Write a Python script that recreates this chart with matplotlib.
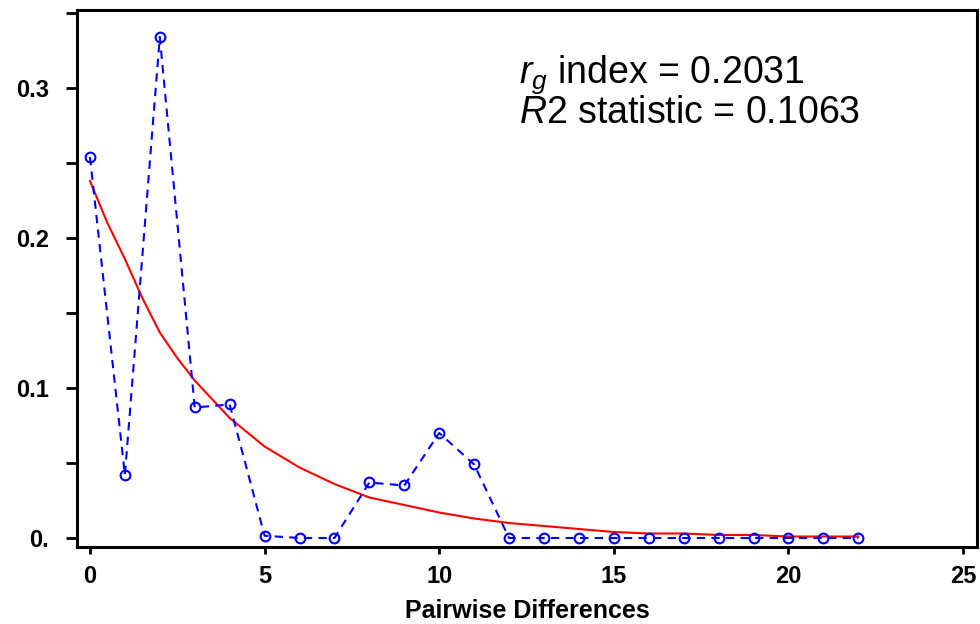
import numpy as np
import matplotlib
matplotlib.use("Agg")
import matplotlib.pyplot as plt
from matplotlib.ticker import MultipleLocator

plt.rcParams['font.family'] = ['Liberation Sans', 'DejaVu Sans']
plt.rcParams['mathtext.fontset'] = 'custom'
plt.rcParams['mathtext.rm'] = 'Liberation Sans'
plt.rcParams['mathtext.it'] = 'Liberation Sans:italic'

# Observed mismatch distribution (pairwise differences)
diffs = list(range(23))
observed = [0.254, 0.042, 0.334, 0.087, 0.089, 0.0015, 0.0, 0.0, 0.037, 0.035,
            0.070, 0.049, 0.0, 0.0, 0.0, 0.0, 0.0, 0.0, 0.0, 0.0, 0.0, 0.0, 0.0]
# Expected (model) curve
expected_x = [0, 0.5, 1, 1.5, 2, 2.5, 3, 4, 5, 6, 7, 8, 9, 10, 11, 12, 13, 14,
              15, 16, 17, 18, 19, 20, 21, 22]
expected = [0.238, 0.210, 0.186, 0.160, 0.137, 0.120, 0.105, 0.080, 0.061,
            0.047, 0.036, 0.027, 0.022, 0.017, 0.013, 0.010, 0.008, 0.006,
            0.004, 0.003, 0.003, 0.002, 0.002, 0.001, 0.001, 0.001]

xticks = [0, 5, 10, 15, 20, 25]
yticks = [0.0, 0.1, 0.2, 0.3]
ytick_labels = ["0.", "0.1", "0.2", "0.3"]

fig = plt.figure(figsize=(9.8, 6.24), dpi=100)
ax = fig.add_axes([0.0786, 0.1234, 0.9184, 0.8606])

ax.plot(expected_x, expected, color=(1, 0, 0), lw=1.5, zorder=2)
ax.plot(diffs, observed, color=(0, 0, 1), lw=1.5, linestyle=(0, (4, 3)),
        marker='o', markersize=7, markerfacecolor='none',
        markeredgecolor=(0, 0, 1), markeredgewidth=1.5, zorder=3)

ax.set_xlim(-0.37, 25.4)
ax.set_ylim(-0.006, 0.352)
ax.set_xticks(xticks)
ax.set_yticks(yticks)
ax.set_yticklabels(ytick_labels)
ax.yaxis.set_minor_locator(MultipleLocator(0.05))

for s in ax.spines.values():
    s.set_linewidth(2.2)
ax.tick_params(axis='both', which='both', direction='out', width=2, labelsize=17)
ax.tick_params(axis='y', which='both', length=8, pad=12)
ax.tick_params(axis='x', length=5, pad=8)
for lab in ax.get_xticklabels() + ax.get_yticklabels():
    lab.set_fontweight('bold')

ax.set_xlabel("Pairwise Differences", fontsize=18, fontweight='bold', labelpad=8)

ax.text(0.491, 0.864, r"$r_g$ index = 0.2031", transform=ax.transAxes,
        fontsize=27, va='baseline', ha='left')
ax.text(0.491, 0.790, r"$R2$ statistic = 0.1063", transform=ax.transAxes,
        fontsize=27, va='baseline', ha='left')

fig.savefig("out.png", dpi=100)
